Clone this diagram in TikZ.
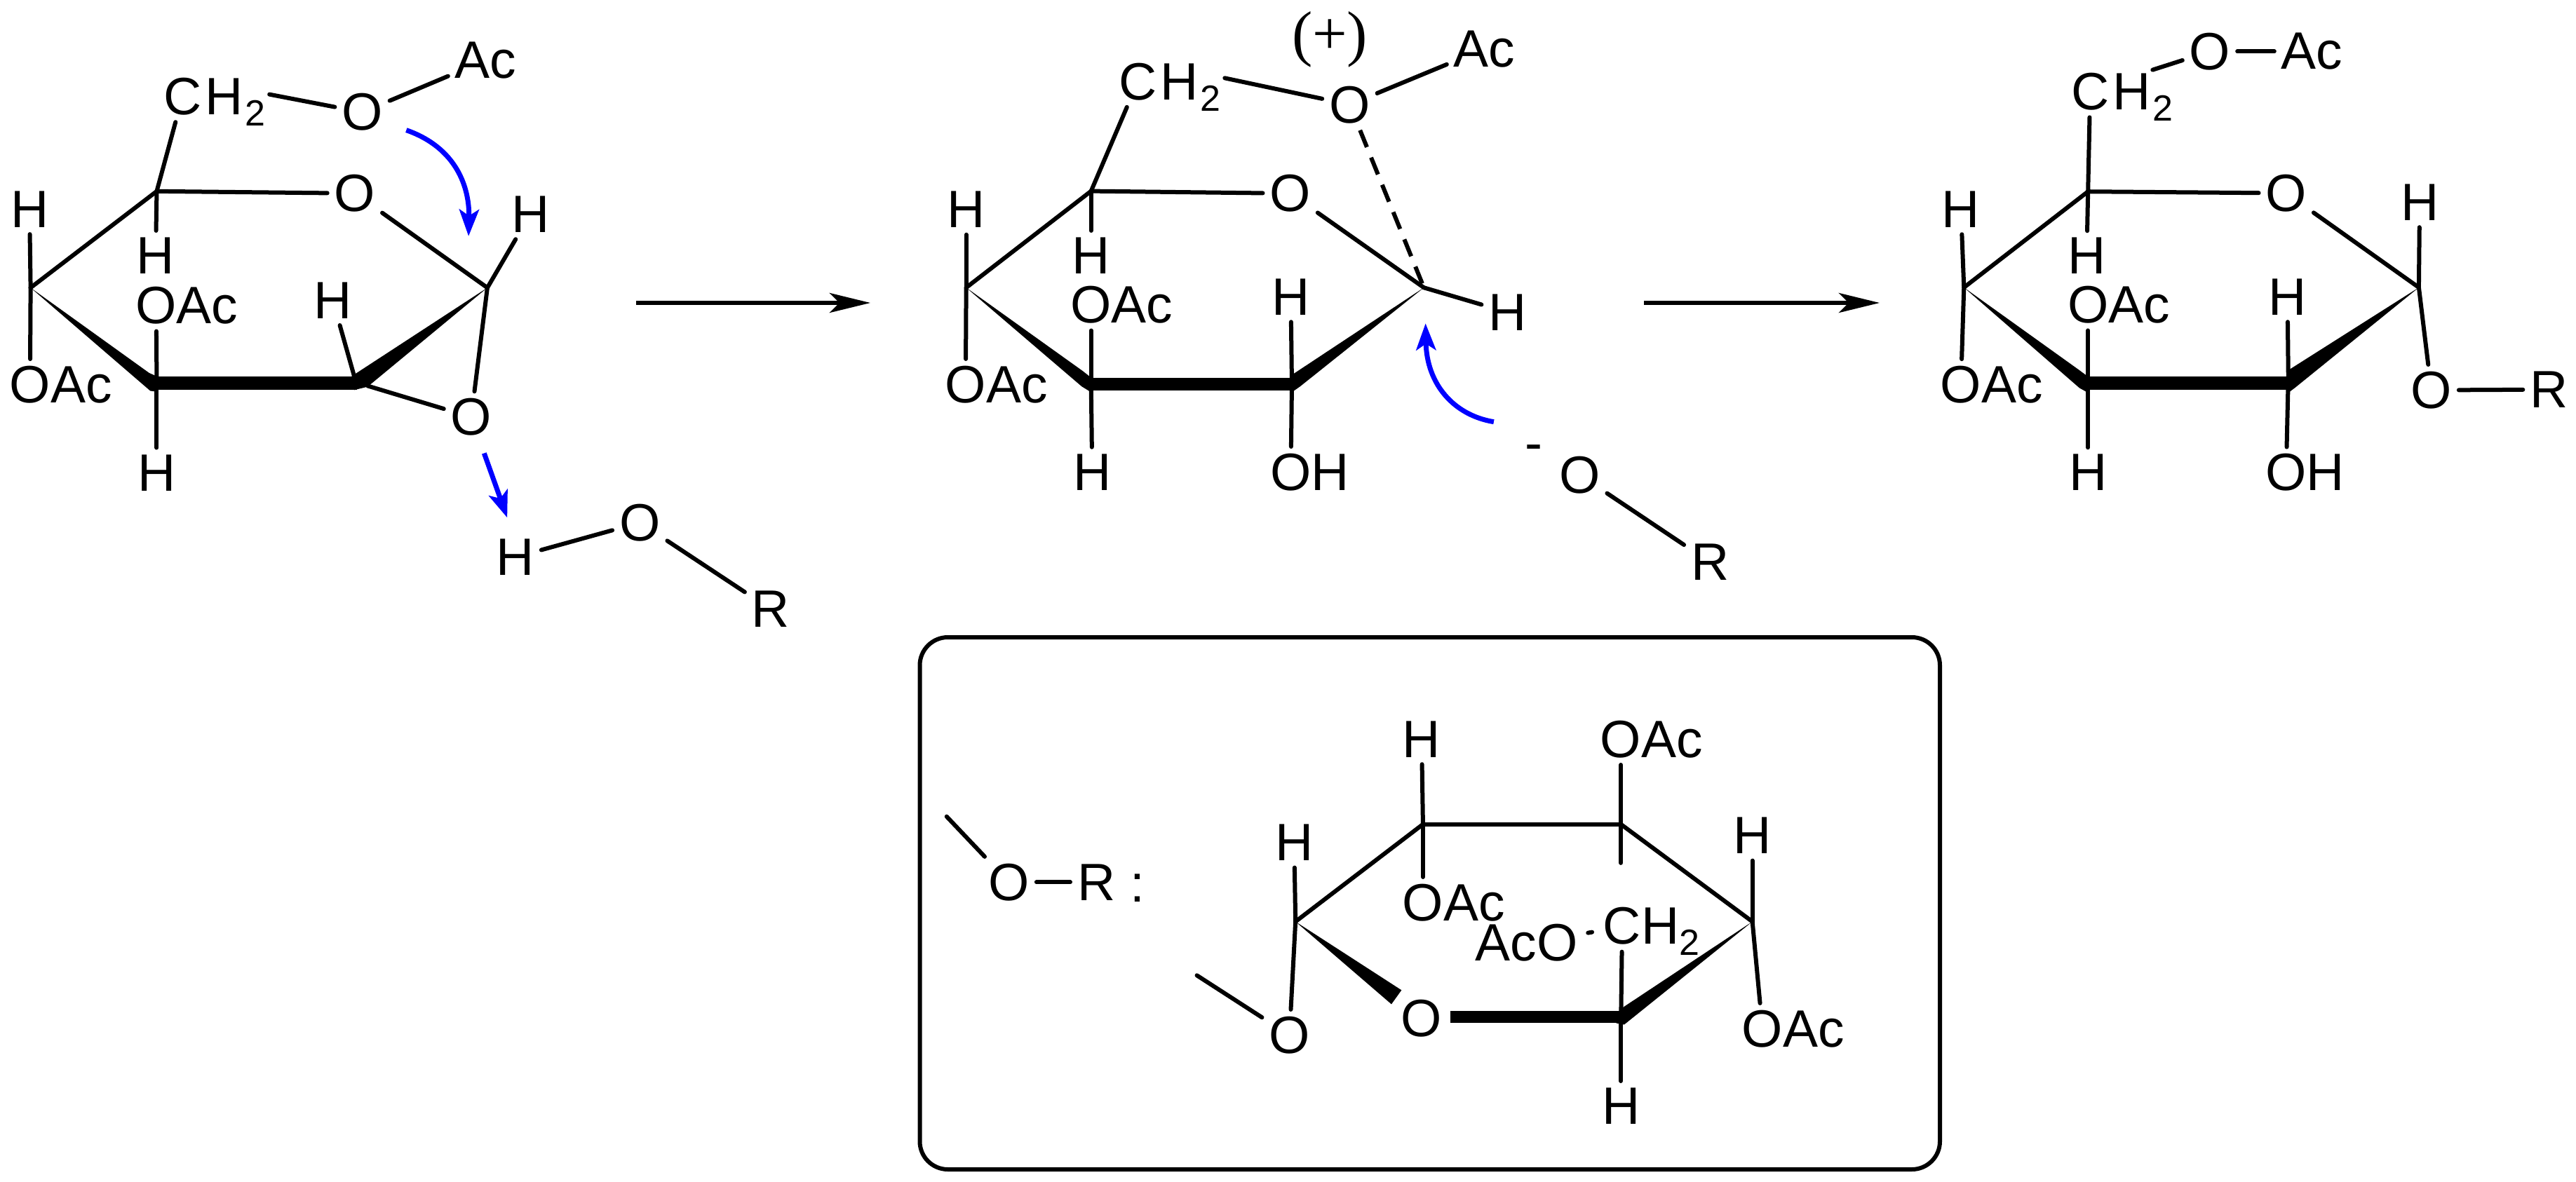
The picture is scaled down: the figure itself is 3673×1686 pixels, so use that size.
\documentclass[tikz,border=0pt]{standalone}
\usepackage{fontspec}
\setmainfont{Liberation Sans}
\newfontfamily\serifplus{Liberation Serif}
\usetikzlibrary{arrows.meta}
\newcommand\subtwotight{\raisebox{-16pt}{\fontsize{52}{52}\selectfont 2}}
\newcommand\subtwo{\kern3pt\subtwotight}
\tikzset{
  atom/.style={inner sep=10pt,outer sep=0pt,font=\fontsize{75}{75}\selectfont},
  tail/.style={inner sep=0pt,outer sep=0pt,anchor=base west,xshift=-10pt,font=\fontsize{75}{75}\selectfont},
  tailleft/.style={inner sep=0pt,outer sep=0pt,anchor=base east,xshift=10pt,font=\fontsize{75}{75}\selectfont},
  bond/.style={draw=black,line width=6pt,line cap=round},
  bar/.style={fill=black},
  rxn/.style={draw=black,line width=6pt,-{Stealth[length=58pt,width=28pt,inset=14pt]}},
  push/.style={draw=blue,line width=7pt,-{Stealth[length=38pt,width=28pt,inset=9pt]}},
  frame/.style={draw=black,line width=6pt,rounded corners=40pt},
  charge/.style={inner sep=0pt,font=\fontsize{88}{88}\selectfont\serifplus},
}
\newcommand\oac[2]{\node[atom] (#1) at (#2) {O}; \node[tail] (#1t) at (#1.base east) {Ac};}
\newcommand\chtwo[2]{\node[atom] (#1) at (#2) {C}; \node[tail,xshift=5pt] (#1t) at (#1.base east) {H\subtwo};}
\begin{document}
\begin{tikzpicture}[x=1pt,y=-1pt]
\useasboundingbox (0,0) rectangle (3673,1686);
\fill[white] (0,0) rectangle (3673,1686);
%% reaction arrows
\coordinate (r1s) at (907,432); \coordinate (r1e) at (1241,432);
\coordinate (r2s) at (2344,432); \coordinate (r2e) at (2680,432);
\draw[rxn] (r1s) -- (r1e);
\draw[rxn] (r2s) -- (r2e);
%% molecule 1
\begin{scope}[x=.7653pt,y=-.5931pt]
\coordinate (a) at (57,692); \coordinate (b) at (292,460); \coordinate (e) at (908,692);
\coordinate (d) at (660,905); \coordinate (f) at (292,925); \coordinate (g) at (685,928);
\coordinate (che) at (502,227);
\fill[bar] (a) -- (278,897) -- (292,905) -- (292,942) -- (280,940) -- cycle;
\fill[bar] (285,905) rectangle (665,938);
\fill[bar] (e) -- (655,905) -- (660,938) -- (685,930) -- cycle;
\node[atom] (ro) at (661,465) {O};
\chtwo{ch}{340,232}
\node[atom] (oe) at (675,270) {O};
\node[atom] (ac) at (905,145) {Ac};
\node[atom] (ha) at (55,503) {H};
\node[atom] (hb) at (290,615) {H};
\oac{of}{291,735}
\oac{oa}{56,925}
\node[atom] (hf) at (292,1137) {H};
\node[atom] (hd) at (620,722) {H};
\node[atom] (he) at (988,515) {H};
\node[atom] (ob) at (878,1003) {O};
\node[atom] (hh) at (960,1340) {H};
\node[atom] (oh) at (1192,1257) {O};
\node[atom] (rr) at (1436,1465) {R};
\draw[bond] (a) -- (b); \draw[bond] (b) -- (ro); \draw[bond] (ro) -- (e);
\draw[bond] (a) -- (ha); \draw[bond] (a) -- (oa);
\draw[bond] (b) -- (ch); \draw[bond] (b) -- (hb);
\draw[bond] (f) -- (of); \draw[bond] (f) -- (hf);
\draw[bond] (d) -- (hd); \draw[bond] (e) -- (he);
\draw[bond] (e) -- (ob); \draw[bond] (g) -- (ob);
\draw[bond] (che) -- (oe); \draw[bond] (oe) -- (ac);
\draw[bond] (hh) -- (oh); \draw[bond] (oh) -- (rr);
\coordinate (p1s) at (757,313); \coordinate (p1e) at (873,568);
\draw[push] (p1s) .. controls (850,355) and (875,450) .. (p1e);
\coordinate (p2s) at (902,1090); \coordinate (p2e) at (945,1245);
\draw[push] (p2s) -- (p2e);
\end{scope}
%% molecule 2
\begin{scope}[shift={(1340,0)},x=.7844pt,y=-.5485pt]
\coordinate (a) at (48,748); \coordinate (b) at (275,497); \coordinate (e) at (880,748);
\coordinate (d) at (640,1000); \coordinate (f) at (275,1000);
\coordinate (che) at (518,203);
\fill[bar] (a) -- (260,965) -- (275,982) -- (275,1020) -- (258,1005) -- cycle;
\fill[bar] (270,982) rectangle (645,1015);
\fill[bar] (e) -- (640,975) -- (640,1020) -- (655,1005) -- cycle;
\node[atom] (ro) at (637,503) {O};
\chtwo{ch}{360,212}
\node[atom] (oe) at (745,272) {O};
\node[atom] (ac) at (990,127) {Ac};
\node[charge] (plus) at (709,103) {(+)};
\node[atom] (ha) at (48,545) {H};
\node[atom] (hb) at (275,665) {H};
\oac{of}{275,793}
\oac{oa}{47,1000}
\node[atom] (hf) at (277,1228) {H};
\node[atom] (hd) at (638,772) {H};
\node[atom] (od) at (638,1228) {O};
\node[tail] (odt) at (od.base east) {H};
\node[atom] (he) at (1032,812) {H};
\node[atom] (minus) at (1080,1178) {-};
\node[atom] (om) at (1163,1235) {O};
\node[atom] (rr) at (1400,1462) {R};
\draw[bond] (a) -- (b); \draw[bond] (b) -- (ro); \draw[bond] (ro) -- (e);
\draw[bond] (a) -- (ha); \draw[bond] (a) -- (oa);
\draw[bond] (b) -- (ch); \draw[bond] (b) -- (hb);
\draw[bond] (f) -- (of); \draw[bond] (f) -- (hf);
\draw[bond] (d) -- (hd); \draw[bond] (d) -- (od); \draw[bond] (e) -- (he);
\draw[bond] (che) -- (oe); \draw[bond] (oe) -- (ac);
\draw[bond] (om) -- (rr);
\draw[bond,line cap=butt,dash pattern=on 26pt off 16pt] (oe) -- (e);
\coordinate (p3s) at (1007,1097); \coordinate (p3e) at (883,841);
\draw[push] (p3s) .. controls (935,1080) and (885,1000) .. (p3e);
\end{scope}
%% molecule 3
\begin{scope}[shift={(2710,0)},x=.6142pt,y=-.4592pt]
\coordinate (a) at (147,893); \coordinate (b) at (435,595); \coordinate (e) at (1203,893);
\coordinate (d) at (900,1170); \coordinate (f) at (435,1190); \coordinate (che) at (585,217);
\fill[bar] (a) -- (415,1150) -- (435,1170) -- (435,1220) -- (415,1205) -- cycle;
\fill[bar] (430,1170) rectangle (905,1210);
\fill[bar] (e) -- (900,1150) -- (900,1220) -- (915,1205) -- cycle;
\node[atom] (ro) at (895,600) {O};
\chtwo{ch}{440,285}
\node[atom] (oe) at (718,160) {O};
\node[atom] (ac) at (955,160) {Ac};
\node[atom] (ha) at (140,650) {H};
\node[atom] (hb) at (432,795) {H};
\oac{of}{435,947}
\oac{oa}{140,1195}
\node[atom] (hf) at (435,1468) {H};
\node[atom] (hd) at (898,922) {H};
\node[atom] (od) at (895,1468) {O};
\node[tail] (odt) at (od.base east) {H};
\node[atom] (he) at (1205,628) {H};
\node[atom] (oe2) at (1232,1212) {O};
\node[atom] (rr) at (1505,1210) {R};
\draw[bond] (a) -- (b); \draw[bond] (b) -- (ro); \draw[bond] (ro) -- (e);
\draw[bond] (a) -- (ha); \draw[bond] (a) -- (oa);
\draw[bond] (b) -- (ch); \draw[bond] (b) -- (hb);
\draw[bond] (f) -- (of); \draw[bond] (f) -- (hf);
\draw[bond] (d) -- (hd); \draw[bond] (d) -- (od); \draw[bond] (e) -- (he);
\draw[bond] (e) -- (oe2); \draw[bond] (oe2) -- (rr);
\draw[bond] (che) -- (oe); \draw[bond] (oe) -- (ac);
\end{scope}
%% boxed sugar
\coordinate (fr1) at (1311.5,909); \coordinate (fr2) at (2766,1668);
\draw[frame] (fr1) rectangle (fr2);
\begin{scope}[shift={(1300,900)},x=.9566pt,y=-.5013pt]
\coordinate (a) at (572,827); \coordinate (b) at (762,550); \coordinate (c) at (1057,550);
\coordinate (e) at (1253,827); \coordinate (d) at (1057,1120);
\coordinate (stub) at (1057,660); \coordinate (free1) at (52,528); \coordinate (free2) at (425,980);
\coordinate (dash1) at (1008,859); \coordinate (dash2) at (1014,857);
\node[atom] (ko) at (145,715) {O};
\node[atom] (kr) at (275,715) {R};
\node[atom,anchor=base] (colon) at (337,770) {:};
\fill[bar] (a) -- (730,1022) -- (715,1062) -- cycle;
\fill[bar] (803,1082) rectangle (1060,1116);
\fill[bar] (e) -- (1057,1075) -- (1050,1116) -- (1062,1120) -- cycle;
\node[atom] (ha) at (570,602) {H};
\node[atom] (ob) at (563,1150) {O};
\node[atom] (rr) at (760,1103) {O};
\node[atom] (hb) at (760,308) {H};
\oac{ob2}{762,773}
\oac{oc}{1057,308}
\node[atom] (he) at (1253,582) {H};
\oac{oe}{1268,1132}
\node[atom] (hd) at (1057,1352) {H};
\node[atom] (ch) at (1059,840) {C};
\node[tail] (cht) at (ch.base east) {H\subtwotight};
\node[atom] (oo) at (962,887) {O};
\node[tailleft] (oot) at (oo.base west) {Ac};
\draw[bond] (free1) -- (ko); \draw[bond] (ko) -- (kr);
\draw[bond] (a) -- (b); \draw[bond] (b) -- (c); \draw[bond] (c) -- (e);
\draw[bond] (a) -- (ha); \draw[bond] (a) -- (ob); \draw[bond] (free2) -- (ob);
\draw[bond] (b) -- (hb); \draw[bond] (b) -- (ob2);
\draw[bond] (c) -- (oc); \draw[bond] (c) -- (stub);
\draw[bond] (e) -- (he); \draw[bond] (e) -- (oe);
\draw[bond] (d) -- (ch); \draw[bond] (d) -- (hd);
\draw[bond] (dash1) -- (dash2);
\end{scope}
\end{tikzpicture}
\end{document}
